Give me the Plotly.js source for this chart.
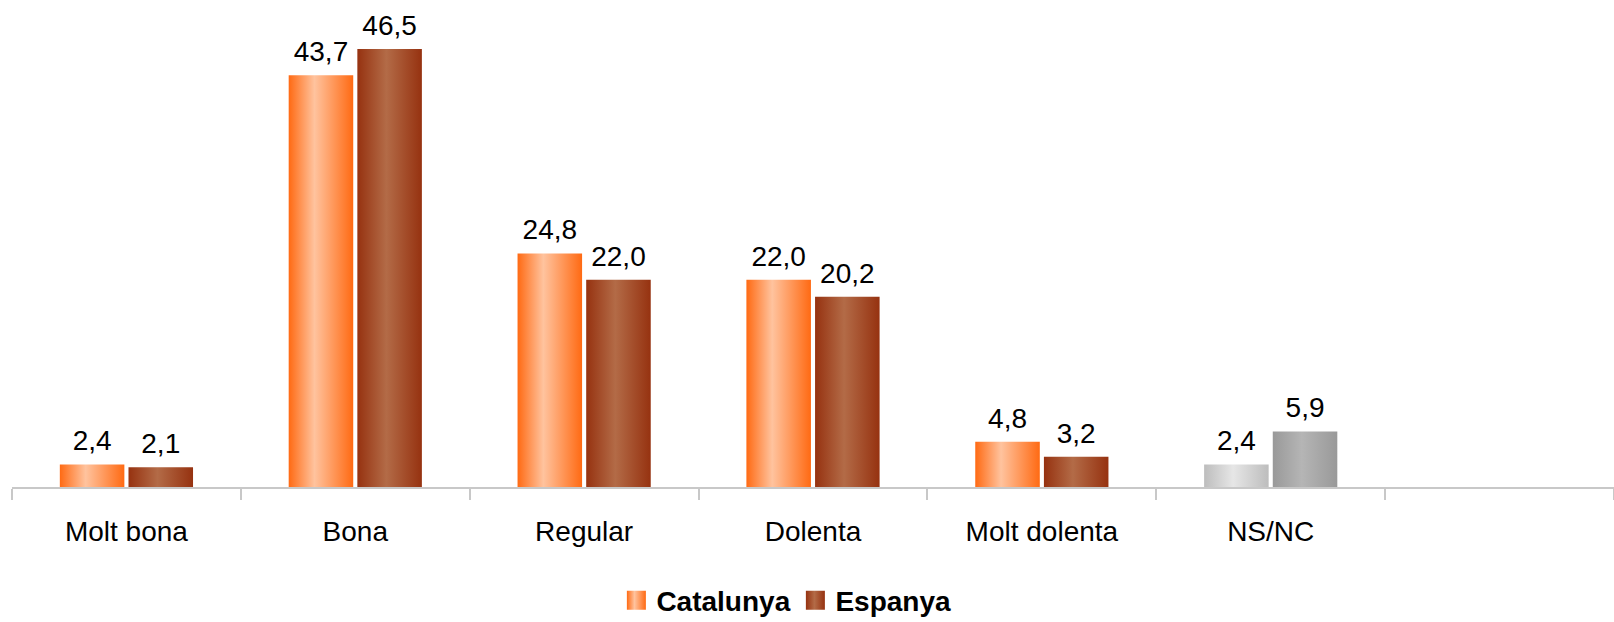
<!DOCTYPE html>
<html>
<head>
<meta charset="utf-8">
<script src="https://cdn.plot.ly/plotly-3.0.1.min.js"></script>
<style>
  html, body { margin: 0; padding: 0; background: #ffffff; }
  #chart { width: 1614px; height: 622px; }
</style>
</head>
<body>
<div id="chart"></div>
<script>
// ---- Data ----
const categories = ['Molt bona', 'Bona', 'Regular', 'Dolenta', 'Molt dolenta', 'NS/NC', ' '];
const catalunya = [2.4, 43.7, 24.8, 22.0, 4.8, 2.4, null];
const espanya   = [2.1, 46.5, 22.0, 20.2, 3.2, 5.9, null];
const seriesNames = ['Catalunya', 'Espanya'];

// ---- Styles ----
const CAT_COLOR = '#FF6A13';
const ESP_COLOR = '#983312';
const CAT_GREY = '#BDBDBD';
const ESP_GREY = '#999999';
const gradients = {
  [CAT_COLOR]: {id: 'gCat', edge: '#FF6A13', center: '#FFC39E', peak: 0.4},
  [ESP_COLOR]: {id: 'gEsp', edge: '#963210', center: '#B36B47', peak: 0.45},
  [CAT_GREY]:  {id: 'gCatGrey', edge: '#BDBDBD', center: '#E6E6E6', peak: 0.45},
  [ESP_GREY]:  {id: 'gEspGrey', edge: '#999999', center: '#B5B5B5', peak: 0.45}
};
const catColors = categories.map(c => c === 'NS/NC' ? CAT_GREY : CAT_COLOR);
const espColors = categories.map(c => c === 'NS/NC' ? ESP_GREY : ESP_COLOR);
const FONT = 'Liberation Sans, Arial, Helvetica, sans-serif';

const data = [
  {
    type: 'bar', name: '<b>' + seriesNames[0] + '</b>', x: categories, y: catalunya,
    marker: {color: catColors, line: {width: 0}},
    texttemplate: '%{y:.1f}', textposition: 'outside', constraintext: 'none',
    cliponaxis: false, textfont: {family: FONT, size: 28, color: '#000000'},
    hoverinfo: 'skip'
  },
  {
    type: 'bar', name: '<b>' + seriesNames[1] + '</b>', x: categories, y: espanya,
    marker: {color: espColors, line: {width: 0}},
    texttemplate: '%{y:.1f}', textposition: 'outside', constraintext: 'none',
    cliponaxis: false, textfont: {family: FONT, size: 28, color: '#000000'},
    hoverinfo: 'skip'
  }
];

const layout = {
  width: 1614, height: 622,
  margin: {l: 12, r: 0, t: 16, b: 135, autoexpand: false},
  paper_bgcolor: '#ffffff', plot_bgcolor: '#ffffff',
  separators: ',.',
  font: {family: FONT, size: 28, color: '#000000'},
  barmode: 'group', bargap: 0.40, bargroupgap: 0.06,
  showlegend: true,
  legend: {
    orientation: 'h', x: 0.489, xanchor: 'center', y: -0.241, yanchor: 'middle',
    font: {family: FONT, size: 28, color: '#000000'},
    itemwidth: 30, entrywidth: 134, entrywidthmode: 'pixels', traceorder: 'normal'
  },
  xaxis: {
    type: 'category', showline: true, linecolor: '#C8C8C8', linewidth: 2,
    ticks: 'outside', tickson: 'boundaries', ticklen: 11, tickcolor: '#C8C8C8', tickwidth: 2,
    showgrid: false, zeroline: false, ticklabelstandoff: 18,
    tickfont: {family: FONT, size: 28, color: '#000000'}
  },
  yaxis: {
    range: [0, 50], visible: false, showgrid: false, zeroline: false
  }
};

function applyGradients(gd) {
  const svg = gd.querySelector('.main-svg');
  const NS = 'http://www.w3.org/2000/svg';
  let defs = svg.querySelector('defs');
  if (!defs) { defs = document.createElementNS(NS, 'defs'); svg.insertBefore(defs, svg.firstChild); }
  Object.values(gradients).forEach(g => {
    const lg = document.createElementNS(NS, 'linearGradient');
    lg.setAttribute('id', g.id);
    lg.setAttribute('x1', '0'); lg.setAttribute('y1', '0');
    lg.setAttribute('x2', '1'); lg.setAttribute('y2', '0');
    [[0, g.edge], [g.peak, g.center], [1, g.edge]].forEach(([o, c]) => {
      const s = document.createElementNS(NS, 'stop');
      s.setAttribute('offset', o);
      s.setAttribute('stop-color', c);
      lg.appendChild(s);
    });
    defs.appendChild(lg);
  });
  const colorArrays = [catColors, espColors];
  gd.querySelectorAll('.barlayer .trace').forEach((tr, ti) => {
    tr.querySelectorAll('.point').forEach(pt => {
      const d = pt.__data__;
      const idx = d && d.i !== undefined ? d.i : 0;
      const path = pt.querySelector('path');
      const col = colorArrays[ti][idx];
      if (path && gradients[col]) path.style.fill = 'url(#' + gradients[col].id + ')';
      const txt = pt.querySelector('text');
      if (txt) {
        const t = txt.getAttribute('transform') || '';
        txt.setAttribute('transform', 'translate(0,-5) ' + t);
      }
    });
  });
  gd.querySelectorAll('.legend .traces').forEach((tr, i) => {
    const p = tr.querySelector('.legendpoints path');
    const col = colorArrays[i][0];
    if (p) {
      p.style.fill = 'url(#' + gradients[col].id + ')';
      p.setAttribute('d', 'M9.5,9.5H-9.5V-9.5H9.5Z');
    }
  });
}

Plotly.newPlot('chart', data, layout, {displayModeBar: false, staticPlot: true}).then(applyGradients);
</script>
</body>
</html>
